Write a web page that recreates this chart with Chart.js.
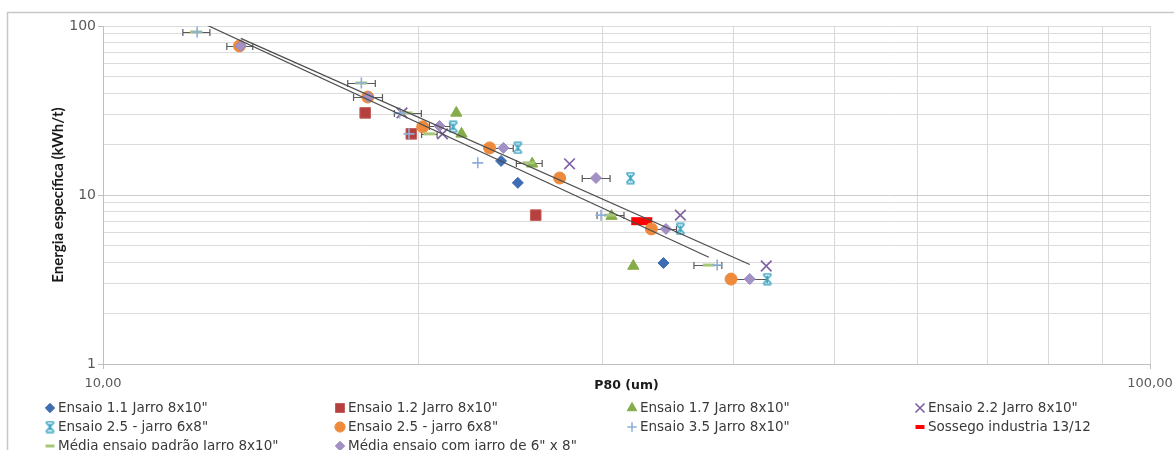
<!DOCTYPE html>
<html>
<head>
<meta charset="utf-8">
<script src="https://cdn.jsdelivr.net/npm/chart.js@4.4.1/dist/chart.umd.min.js"></script>
<style>
  html, body { margin: 0; padding: 0; background: #fff; }
  #wrap { width: 1174px; height: 450px; }
</style>
</head>
<body>
<div id="wrap"><canvas id="chart" width="1174" height="450"></canvas></div>
<script>
// Eixos
const xTickValues = [10, 20, 30, 40, 50, 60, 70, 80, 90, 100];
const yTickValues = [1, 2, 3, 4, 5, 6, 7, 8, 9, 10, 20, 30, 40, 50, 60, 70, 80, 90, 100];
const xLabelValues = [10, 100];
const xLabelTexts = ["10,00", "100,00"];
const yLabelValues = [1, 10, 100];
const yLabelTexts = ["1", "10", "100"];

// Ensaios (P80 em um, energia em kWh/t)
const e11X = [24.0, 24.9, 34.3];
const e11Y = [15.9, 11.8, 3.96];
const e12X = [17.8, 19.7, 25.9];
const e12Y = [30.6, 23.0, 7.6];
const e17X = [21.75, 22.0, 25.7, 30.6, 32.1];
const e17Y = [30.6, 23.0, 15.3, 7.5, 3.8];
const e22X = [19.3, 21.1, 27.9, 35.6, 43.0];
const e22Y = [30.6, 23.0, 15.3, 7.6, 3.8];
const e25aX = [21.6, 24.9, 31.9, 35.6, 43.1];
const e25aY = [25.3, 19.0, 12.6, 6.3, 3.18];
const e25bX = [13.5, 17.9, 20.2, 23.4, 27.3, 33.4, 39.8];
const e25bY = [76.2, 38.0, 25.3, 19.0, 12.6, 6.3, 3.18];
const e35X = [12.3, 17.65, 19.2, 19.6, 22.8, 29.9, 38.6];
const e35Y = [92.2, 46.0, 30.6, 23.0, 15.5, 7.6, 3.85];
const sosX = [32.7];
const sosY = [7.0];

// Médias com barras de erro (horizontal)
const mpX = [12.27, 17.65, 19.5, 20.5, 25.5, 30.5, 37.9];
const mpY = [92.2, 46.0, 30.6, 23.0, 15.5, 7.6, 3.85];
const mpLow = [11.92, 17.13, 18.98, 20.15, 24.82, 29.64, 36.68];
const mpHigh = [12.65, 18.2, 20.14, 20.85, 26.27, 31.45, 39.0];
const mjX = [13.54, 17.93, 20.96, 24.12, 29.57, 34.49, 41.47];
const mjY = [76.2, 38.0, 25.6, 19.0, 12.6, 6.3, 3.18];
const mjLow = [13.13, 17.35, 20.5, 23.6, 28.69, 33.7, 39.8];
const mjHigh = [13.9, 18.49, 21.45, 24.65, 30.5, 35.3, 43.1];

function pts(xs, ys) {
  return xs.map((x, i) => ({ x: x, y: ys[i] }));
}

// linha de tendência potência (ajuste em log-log)
function powerTrend(xs, ys) {
  const lx = xs.map(Math.log), ly = ys.map(Math.log);
  const n = xs.length;
  const mx = lx.reduce((a, b) => a + b, 0) / n;
  const my = ly.reduce((a, b) => a + b, 0) / n;
  let sxy = 0, sxx = 0;
  for (let i = 0; i < n; i++) {
    sxy += (lx[i] - mx) * (ly[i] - my);
    sxx += (lx[i] - mx) * (lx[i] - mx);
  }
  const b = sxy / sxx;
  const a = Math.exp(my - b * mx);
  const x0 = Math.min(...xs), x1 = Math.max(...xs);
  return [{ x: x0, y: a * Math.pow(x0, b) }, { x: x1, y: a * Math.pow(x1, b) }];
}

function starMarker(color) {
  const c = document.createElement("canvas");
  c.width = 13;
  c.height = 13;
  const g = c.getContext("2d");
  g.strokeStyle = color;
  g.lineWidth = 1.6;
  g.beginPath();
  g.moveTo(2.5, 2); g.lineTo(10.5, 11);
  g.moveTo(10.5, 2); g.lineTo(2.5, 11);
  g.moveTo(6.5, 3); g.lineTo(6.5, 10);
  g.moveTo(2.5, 1.3); g.lineTo(10.5, 1.3);
  g.moveTo(2.5, 11.7); g.lineTo(10.5, 11.7);
  g.stroke();
  return c;
}

const fontMain = "'DejaVu Sans', sans-serif";

const datasets = [
  { label: 'Ensaio 1.1 Jarro 8x10"', data: pts(e11X, e11Y), pointStyle: "rectRot", pointRadius: 5.5,
    pointBackgroundColor: "#3F6DB3", pointBorderColor: "#3F6DB3", pointBorderWidth: 1, order: 5 },
  { label: 'Ensaio 1.2 Jarro 8x10"', data: pts(e12X, e12Y), pointStyle: "rect", pointRadius: 7.5,
    pointBackgroundColor: "#B5403D", pointBorderColor: "#C4605D", pointBorderWidth: 1, order: 5 },
  { label: 'Ensaio 1.7 Jarro 8x10"', data: pts(e17X, e17Y), pointStyle: "triangle", pointRadius: 6.5,
    pointBackgroundColor: "#85AC4A", pointBorderColor: "#85AC4A", pointBorderWidth: 1, order: 5 },
  { label: 'Ensaio 2.2 Jarro 8x10"', data: pts(e22X, e22Y), pointStyle: "crossRot", pointRadius: 7.5,
    pointBackgroundColor: "#7F64A4", pointBorderColor: "#7F64A4", pointBorderWidth: 1.7, order: 5 },
  { label: 'Ensaio 2.5 - jarro 6x8"', data: pts(e25aX, e25aY), pointStyle: starMarker("#3FA7C4"), pointRadius: 6.5,
    pointBackgroundColor: "#3FA7C4", pointBorderColor: "#3FA7C4", pointBorderWidth: 1.6, order: 5 },
  { label: 'Ensaio 2.5 - jarro 6x8"', data: pts(e25bX, e25bY), pointStyle: "circle", pointRadius: 6,
    pointBackgroundColor: "#EE8A3C", pointBorderColor: "#EE8A3C", pointBorderWidth: 1, order: 4 },
  { label: 'Ensaio 3.5 Jarro 8x10"', data: pts(e35X, e35Y), pointStyle: "cross", pointRadius: 5.5,
    pointBackgroundColor: "#8FAEDA", pointBorderColor: "#8FAEDA", pointBorderWidth: 1.6, order: 1 },
  { label: "Sossego industria 13/12", data: pts(sosX, sosY), pointStyle: "line", pointRadius: 10.5,
    pointBackgroundColor: "#FF0000", pointBorderColor: "#FF0000", pointBorderWidth: 8, order: 6 },
  { label: 'Média ensaio padrão Jarro 8x10"', data: pts(mpX, mpY), pointStyle: "line", pointRadius: 6,
    pointBackgroundColor: "#A6C878", pointBorderColor: "#A6C878", pointBorderWidth: 3, order: 3,
    errLow: mpLow, errHigh: mpHigh },
  { label: 'Média ensaio com jarro de 6" x 8"', data: pts(mjX, mjY), pointStyle: "rectRot", pointRadius: 5.5,
    pointBackgroundColor: "#A391C6", pointBorderColor: "#9A88BE", pointBorderWidth: 1, order: 2,
    errLow: mjLow, errHigh: mjHigh },
  { label: "trend padrão", data: powerTrend(mpX, mpY), showLine: true, pointRadius: 0,
    borderColor: "#4D4D4D", borderWidth: 1.2, order: 0, isTrend: true },
  { label: "trend jarro", data: powerTrend(mjX, mjY), showLine: true, pointRadius: 0,
    borderColor: "#4D4D4D", borderWidth: 1.2, order: 0, isTrend: true },
];

// moldura externa
const framePlugin = {
  id: "frame",
  beforeDraw(chart) {
    const ctx = chart.ctx;
    ctx.save();
    ctx.strokeStyle = "#C8C8C8";
    ctx.lineWidth = 1.5;
    ctx.strokeRect(7.5, 12.5, 1200, 500);
    ctx.restore();
  },
};

// barras de erro horizontais
const errorBarPlugin = {
  id: "errorBars",
  beforeDatasetsDraw(chart) {
    const ctx = chart.ctx, xs = chart.scales.x, ys = chart.scales.y;
    ctx.save();
    ctx.strokeStyle = "#595959";
    ctx.lineWidth = 1.2;
    chart.data.datasets.forEach((ds) => {
      if (!ds.errLow) return;
      ds.data.forEach((p, i) => {
        const y = Math.round(ys.getPixelForValue(p.y)) + 0.5;
        const x1 = xs.getPixelForValue(ds.errLow[i]);
        const x2 = xs.getPixelForValue(ds.errHigh[i]);
        ctx.beginPath();
        ctx.moveTo(x1, y); ctx.lineTo(x2, y);
        ctx.moveTo(x1, y - 3.5); ctx.lineTo(x1, y + 3.5);
        ctx.moveTo(x2, y - 3.5); ctx.lineTo(x2, y + 3.5);
        ctx.stroke();
      });
    });
    ctx.restore();
  },
};

// título do eixo X e legenda em grade (4 colunas)
const legendColX = [50, 340, 632, 920];
const legendRowY = [408, 427, 446];
const legendPlugin = {
  id: "gridLegend",
  afterDraw(chart) {
    const ctx = chart.ctx, area = chart.chartArea;
    ctx.save();
    ctx.fillStyle = "#1A1A1A";
    ctx.font = "bold 12.5px " + fontMain;
    ctx.textAlign = "center";
    ctx.textBaseline = "middle";
    ctx.fillText("P80 (um)", (area.left + area.right) / 2, 386);

    let k = 0;
    chart.data.datasets.forEach((ds) => {
      if (ds.isTrend) return;
      const x = legendColX[k % 4], y = legendRowY[Math.floor(k / 4)];
      k++;
      ctx.fillStyle = ds.pointBackgroundColor;
      ctx.strokeStyle = ds.pointBorderColor;
      ctx.lineWidth = ds.pointStyle === "line" ? Math.min(ds.pointBorderWidth, 4) : ds.pointBorderWidth;
      const r = ds.pointStyle === "line" ? 4.5 : ds.pointRadius * 0.85;
      Chart.helpers.drawPoint(ctx, { pointStyle: ds.pointStyle, radius: r, rotation: 0,
        borderWidth: ds.pointBorderWidth }, x, y);
      ctx.fillStyle = "#3A3A3A";
      ctx.font = "13.5px " + fontMain;
      ctx.textAlign = "left";
      ctx.textBaseline = "middle";
      ctx.fillText(ds.label, x + 8, y);
    });
    ctx.restore();
  },
};

const majorTick = (v) => v === 1 || v === 10 || v === 100;

new Chart(document.getElementById("chart"), {
  type: "scatter",
  data: { datasets: datasets },
  options: {
    responsive: false,
    animation: false,
    layout: { padding: { left: 43, right: 24, top: 26, bottom: 0 } },
    plugins: {
      legend: { display: false },
      tooltip: { enabled: false },
    },
    scales: {
      x: {
        type: "logarithmic",
        min: 10,
        max: 100,
        afterBuildTicks: (s) => { s.ticks = xTickValues.map((v) => ({ value: v })); },
        afterFit: (s) => { s.height = 86; s.paddingLeft = 0; s.paddingRight = 0; },
        grid: {
          color: "#D9D9D9",
          tickLength: 5,
          tickColor: (c) => (c.tick && majorTick(c.tick.value) ? "#BFBFBF" : "rgba(0,0,0,0)"),
        },
        border: { color: "#BFBFBF" },
        ticks: {
          autoSkip: false,
          maxRotation: 0,
          padding: 7,
          color: "#595959",
          font: { family: fontMain, size: 13 },
          callback: (v) => {
            const i = xLabelValues.indexOf(v);
            return i >= 0 ? xLabelTexts[i] : "";
          },
        },
      },
      y: {
        type: "logarithmic",
        min: 1,
        max: 100,
        afterBuildTicks: (s) => { s.ticks = yTickValues.map((v) => ({ value: v })); },
        afterFit: (s) => { s.width = 60; s.paddingTop = 0; s.paddingBottom = 0; },
        grid: {
          color: (c) => (c.tick && c.tick.value === 10 ? "#CDCDCD" : "#DCDCDC"),
          tickLength: 5,
          tickColor: (c) => (c.tick && majorTick(c.tick.value) ? "#BFBFBF" : "rgba(0,0,0,0)"),
        },
        border: { color: "#BFBFBF" },
        title: {
          display: true,
          text: "Energia específica (kWh/t)",
          color: "#1A1A1A",
          font: { family: "Lato", size: 15, weight: "bold" },
          padding: { top: 6, bottom: 0 },
        },
        ticks: {
          autoSkip: false,
          padding: 2,
          color: "#595959",
          font: { family: fontMain, size: 14 },
          callback: (v) => {
            const i = yLabelValues.indexOf(v);
            return i >= 0 ? yLabelTexts[i] : "";
          },
        },
      },
    },
  },
  plugins: [framePlugin, errorBarPlugin, legendPlugin],
});
</script>
</body>
</html>
